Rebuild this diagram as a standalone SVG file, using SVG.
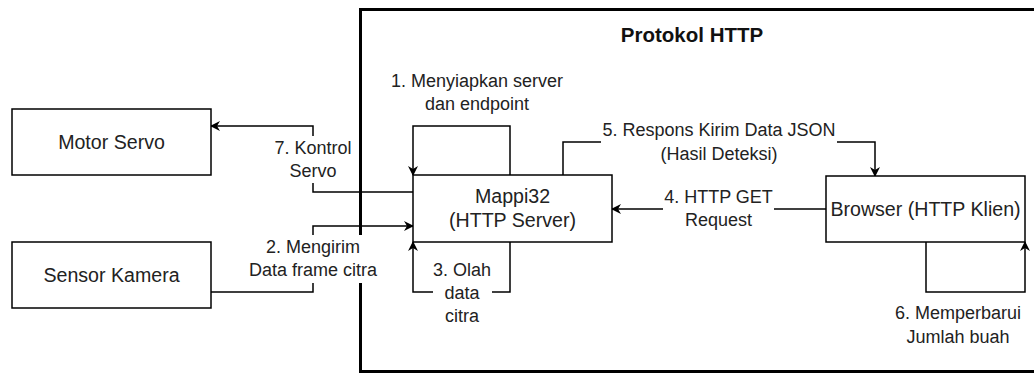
<svg xmlns="http://www.w3.org/2000/svg" width="1034" height="374" viewBox="0 0 1034 374">
  <defs>
    <marker id="arrow" viewBox="0 0 10 10" refX="9" refY="5" markerWidth="10" markerHeight="10" markerUnits="userSpaceOnUse" orient="auto">
      <path d="M0,0 L10,5 L0,10 L3,5 Z" fill="#000"/>
    </marker>
    <style>
      .box { fill: #fff; stroke: #000; stroke-width: 1.5; }
      .frame { fill: none; stroke: #000; stroke-width: 3; }
      .edge { fill: none; stroke: #000; stroke-width: 1.5; marker-end: url(#arrow); }
      text { font-family: "Liberation Sans", Arial, sans-serif; fill: #222; text-anchor: middle; dominant-baseline: central; }
      .node-label { font-size: 19.6px; }
      .edge-label { font-size: 18px; }
      .title { font-size: 20.5px; font-weight: bold; fill: #111; }
      .bg { fill: #fff; }
    </style>
  </defs>
  <rect width="1034" height="374" fill="#fff"/>

  <!-- HTTP protocol boundary -->
  <g id="protocol-frame">
    <rect class="frame" x="360.5" y="9.5" width="700" height="362"/>
    <text class="title" x="692" y="34">Protokol HTTP</text>
  </g>

  <!-- connectors -->
  <g id="connectors">
    <!-- 1: Mappi32 self loop (top) -->
    <path class="edge" d="M510,175 V126 H413 V175"/>
    <text class="edge-label" x="477" y="81">1. Menyiapkan server</text>
    <text class="edge-label" x="477" y="104">dan endpoint</text>

    <!-- 5: JSON response to browser -->
    <path class="edge" d="M563,175 V142 H875 V176"/>
    <rect class="bg" x="601" y="120" width="236" height="46"/>
    <text class="edge-label" x="719" y="130">5. Respons Kirim Data JSON</text>
    <text class="edge-label" x="719" y="154">(Hasil Deteksi)</text>

    <!-- 4: HTTP GET request -->
    <path class="edge" d="M826,209 H612"/>
    <rect class="bg" x="663" y="186" width="111" height="46"/>
    <text class="edge-label" x="718.5" y="197">4. HTTP GET</text>
    <text class="edge-label" x="718.5" y="220">Request</text>

    <!-- 7: servo control -->
    <path class="edge" d="M413,192 H313 V126 H211"/>
    <rect class="bg" x="268" y="136" width="90" height="47"/>
    <text class="edge-label" x="313" y="148">7. Kontrol</text>
    <text class="edge-label" x="313" y="171">Servo</text>

    <!-- 2: camera frames -->
    <path class="edge" d="M211,292 H313 V226 H413"/>
    <rect class="bg" x="248" y="235" width="130" height="48"/>
    <text class="edge-label" x="313" y="247">2. Mengirim</text>
    <text class="edge-label" x="313" y="270">Data frame citra</text>

    <!-- 3: Mappi32 self loop (bottom) -->
    <path class="edge" d="M510,242 V292 H413 V242"/>
    <rect class="bg" x="433" y="259" width="59" height="68"/>
    <text class="edge-label" x="462" y="270">3. Olah</text>
    <text class="edge-label" x="462" y="293">data</text>
    <text class="edge-label" x="462" y="316">citra</text>

    <!-- 6: browser self loop -->
    <path class="edge" d="M926,242 V292 H1025 V242"/>
    <text class="edge-label" x="958" y="313">6. Memperbarui</text>
    <text class="edge-label" x="958" y="337">Jumlah buah</text>
  </g>

  <g id="motor-servo">
    <rect class="box" x="12" y="109" width="199" height="66"/>
    <text class="node-label" x="111.5" y="142">Motor Servo</text>
  </g>

  <g id="sensor-kamera">
    <rect class="box" x="12" y="242" width="199" height="66"/>
    <text class="node-label" x="111.5" y="275">Sensor Kamera</text>
  </g>

  <g id="mappi32">
    <rect class="box" x="413" y="175" width="199" height="67"/>
    <text class="node-label" x="512.5" y="196">Mappi32</text>
    <text class="node-label" x="512.5" y="220">(HTTP Server)</text>
  </g>

  <g id="browser">
    <rect class="box" x="826" y="176" width="199" height="66"/>
    <text class="node-label" x="925.5" y="209">Browser (HTTP Klien)</text>
  </g>
</svg>
